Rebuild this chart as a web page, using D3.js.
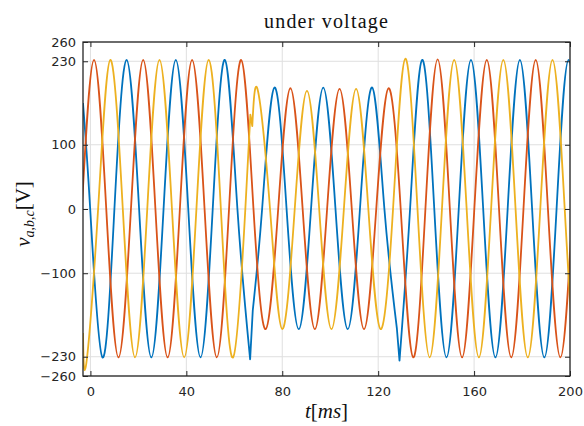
<!DOCTYPE html>
<html><head><meta charset="utf-8">
<script src="https://cdn.jsdelivr.net/npm/d3@7"></script>
<style>body{margin:0;background:#fff}</style>
</head><body><svg id="c" width="584" height="426"></svg>
<script>
// ---- data (t in ms, v in V); knots at extrema and zero crossings
const xTicks = [0, 40, 80, 120, 160, 200];
const yTicks = [-260, -230, -100, 0, 100, 230, 260];

const blueT = [-3.1,-0.1,5.0,10.0,15.1,20.3,25.4,30.5,35.6,40.8,45.9,51.0,56.1,61.3,66.6,
  67.7,71.6,76.7,81.8,86.9,92.0,97.1,102.2,107.3,112.4,117.5,122.6,127.8,
  128.9,133.3,138.3,143.4,148.5,153.6,158.7,163.8,168.9,174.0,179.1,184.2,189.3,194.4,199.4,204.5];
const blueV = [165,0,-231,0,232,0,-231,0,232,0,-231,0,232,0,-234,
  -158,0,189,0,-187,0,189,0,-187,0,189,0,-186,
  -236,0,232,0,-231,0,232,0,-231,0,232,0,-231,0,232,0];
const blueBreaks = [15, 28];

const orangeT = [-3.6,1.5,6.6,11.7,16.9,22.0,27.1,32.2,37.3,42.4,47.6,52.7,57.8,62.9,
  68.0,73.1,78.3,83.4,88.5,93.6,98.7,103.9,109.0,114.1,119.2,124.3,
  129.4,134.6,139.7,144.8,149.9,155.0,160.1,165.3,170.4,175.5,180.6,185.7,190.8,196.0,201.1];
const orangeV = [0,232,0,-231,0,232,0,-231,0,232,0,-231,0,232,
  0,-187,0,188,0,-187,0,187,0,-187,0,188,
  0,-231,0,233,0,-231,0,232,0,-231,0,232,0,-231,0];
const orangeBreaks = [];

const yellowT = [-3.1,-1.7,3.2,8.3,13.5,18.6,23.7,28.8,34.0,39.1,44.2,49.3,54.4,59.5,64.6,66.7,
  67.5,69.8,74.9,80.0,85.2,90.3,95.4,100.5,105.7,110.8,115.9,121.0,126.2,
  131.3,136.4,141.5,146.6,151.7,156.9,162.0,167.1,172.2,177.3,182.4,187.6,192.7,197.8,202.9,208.0];
const yellowV = [-193,-240,0,232,0,-231,0,232,0,-231,0,232,0,-231,0,147,
  129,185,0,-187,0,184,0,-187,0,187,0,-187,0,
  234,0,-231,0,232,0,-231,0,232,0,-231,0,232,0,-231,0];
const yellowBreaks = [16];

const series = [
  {name:"a", t:blueT, v:blueV, breaks:blueBreaks, color:"#0072BD"},
  {name:"b", t:orangeT, v:orangeV, breaks:orangeBreaks, color:"#D95319"},
  {name:"c", t:yellowT, v:yellowV, breaks:yellowBreaks, color:"#EDB120"}
];

// ---- layout
const L = 83, R = 570, T = 42, B = 376;
const x = d3.scaleLinear().domain([-3.1, 200]).range([L, R]);
const y = d3.scaleLinear().domain([-260, 260]).range([B, T]);
const svg = d3.select("#c");
const axisCol = "#262626";

svg.append("defs").append("clipPath").attr("id","clip")
  .append("rect").attr("x",L).attr("y",T).attr("width",R-L).attr("height",B-T);

// grid
const g = svg.append("g").attr("stroke","#dfdfdf").attr("stroke-width",1);
xTicks.forEach(v => g.append("line").attr("x1",x(v)).attr("x2",x(v)).attr("y1",T).attr("y2",B));
yTicks.forEach(v => g.append("line").attr("x1",L).attr("x2",R).attr("y1",y(v)).attr("y2",y(v)));

// lines
const lineGen = d3.line().x(d => x(d[0])).y(d => y(d[1])).curve(d3.curveNatural);
const plot = svg.append("g").attr("clip-path","url(#clip)");
series.forEach(s => {
  const pts = s.t.map((t,i) => [t, s.v[i]]);
  const cuts = [0, ...s.breaks, pts.length];
  let d = "";
  for (let k = 0; k < cuts.length - 1; k++) {
    const seg = lineGen(pts.slice(cuts[k], cuts[k+1]));
    d += (k === 0) ? seg : "L" + seg.slice(1);
  }
  plot.append("path").attr("d", d).attr("fill","none").attr("stroke", s.color)
    .attr("stroke-width",1.8).attr("stroke-linejoin","round");
});

// axes
function style(sel){
  sel.select(".domain").remove();
  sel.selectAll(".tick line").attr("stroke",axisCol);
  sel.selectAll("text").attr("fill",axisCol).attr("font-family","DejaVu Sans").attr("font-size",13);
}
svg.append("g").attr("transform",`translate(0,${B})`)
  .call(d3.axisBottom(x).tickValues(xTicks).tickSizeInner(-5).tickSizeOuter(0).tickPadding(11)).call(style);
svg.append("g").attr("transform",`translate(0,${T})`)
  .call(d3.axisTop(x).tickValues(xTicks).tickSizeInner(-5).tickSizeOuter(0).tickFormat("")).call(style);
svg.append("g").attr("transform",`translate(${L},0)`)
  .call(d3.axisLeft(y).tickValues(yTicks).tickSizeInner(-5).tickSizeOuter(0).tickPadding(7)).call(style);
svg.append("g").attr("transform",`translate(${R},0)`)
  .call(d3.axisRight(y).tickValues(yTicks).tickSizeInner(-5).tickSizeOuter(0).tickFormat("")).call(style);

svg.append("rect").attr("x",L).attr("y",T).attr("width",R-L).attr("height",B-T)
  .attr("fill","none").attr("stroke",axisCol).attr("stroke-width",1.3);

// title & labels
svg.append("text").attr("x",(L+R)/2).attr("y",28).attr("text-anchor","middle")
  .attr("font-family","Liberation Serif").attr("font-size",20).attr("letter-spacing",1.2)
  .attr("fill","#111").text("under voltage");

const xl = svg.append("text").attr("x",(L+R)/2).attr("y",418).attr("text-anchor","middle")
  .attr("font-family","Liberation Serif").attr("font-size",21).attr("fill","#111");
xl.append("tspan").attr("font-style","italic").text("t");
xl.append("tspan").text("[");
xl.append("tspan").attr("font-style","italic").text("ms");
xl.append("tspan").text("]");

const yl = svg.append("text").attr("transform","translate(30,214) rotate(-90)").attr("text-anchor","middle")
  .attr("font-family","Liberation Serif").attr("font-size",21).attr("fill","#111");
yl.append("tspan").attr("font-style","italic").text("v");
yl.append("tspan").attr("font-style","italic").attr("font-size",14).attr("dy",4).text("a,b,c");
yl.append("tspan").attr("dy",-4).text("[V]");
</script>
</body></html>
